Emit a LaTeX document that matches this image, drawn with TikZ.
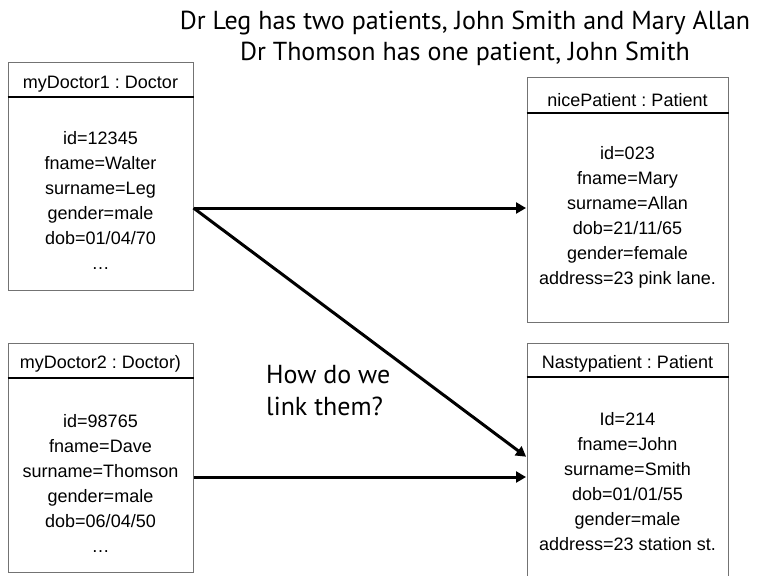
\documentclass[tikz,border=0pt]{standalone}
\usepackage{fontspec}
\setmainfont{Liberation Sans}
\newfontfamily\notefont{PT Sans}
\usetikzlibrary{arrows.meta}
\frenchspacing

\begin{document}
\begin{tikzpicture}[x=1pt,y=-1pt,
  objbox/.style={draw=black!55, line width=1pt, inner sep=0pt},
  divider/.style={line width=2pt, black},
  header/.style={font=\fontsize{18}{20}\selectfont, inner sep=0pt},
  attrs/.style={font=\fontsize{18}{25}\selectfont, align=center, inner sep=0pt},
  note/.style={font=\notefont\fontsize{26}{31}\selectfont, inner sep=0pt},
  link/.style={line width=3pt, -{Triangle[length=10pt,width=11pt]}, shorten >=0.5pt}
]
\useasboundingbox (0,0) rectangle (769,576);

% title
\node[note, align=center] (title) at (465,38)
  {Dr Leg has two patients, John Smith and Mary Allan\\Dr Thomson has one patient, John Smith};

% object boxes
\node[objbox, minimum width=185pt, minimum height=228pt] (d1) at (100.5,176) {};
\node[objbox, minimum width=201pt, minimum height=245pt] (p1) at (627.5,199.5) {};
\node[objbox, minimum width=185pt, minimum height=229pt] (d2) at (100.5,457.5) {};
\node[objbox, minimum width=201pt, minimum height=245pt] (p2) at (627.5,465.5) {};

% header dividers
\draw[divider] (d1.west |- 0,97) -- (d1.east |- 0,97);
\draw[divider] (p1.west |- 0,113) -- (p1.east |- 0,113);
\draw[divider] (d2.west |- 0,378) -- (d2.east |- 0,378);
\draw[divider] (p2.west |- 0,377) -- (p2.east |- 0,377);

% headers
\node[header] (d1h) at (100.5,84) {myDoctor1 : Doctor};
\node[header] (p1h) at (627.5,100) {nicePatient : Patient};
\node[header] (d2h) at (100.5,364) {myDoctor2 : Doctor)};
\node[header] (p2h) at (627.5,364) {Nastypatient : Patient};

% attributes
\node[attrs, anchor=north] (d1a) at (100.5,131)
  {id=12345\\fname=Walter\\surname=Leg\\gender=male\\dob=01/04/70\\\dots};
\node[attrs, anchor=north] (p1a) at (627.5,146)
  {id=023\\fname=Mary\\surname=Allan\\dob=21/11/65\\gender=female\\address=23 pink lane.};
\node[attrs, anchor=north] (d2a) at (100.5,414)
  {id=98765\\fname=Dave\\surname=Thomson\\gender=male\\dob=06/04/50\\\dots};
\node[attrs, anchor=north] (p2a) at (627.5,412)
  {Id=214\\fname=John\\surname=Smith\\dob=01/01/55\\gender=male\\address=23 station st.};

% question
\node[note, align=left, anchor=north west, font=\notefont\fontsize{26}{32}\selectfont] (q) at (266,365) {How do we\\link them?};

% links
\coordinate (s1) at (d1.east |- 0,208);
\coordinate (s2) at (d2.east |- 0,477);
\coordinate (t2) at (p2.west |- 0,457);
\draw[link] (s1) -- (s1 -| p1.west);
\draw[link] (s1) -- (t2);
\draw[link] (s2) -- (s2 -| p2.west);
\end{tikzpicture}
\end{document}
